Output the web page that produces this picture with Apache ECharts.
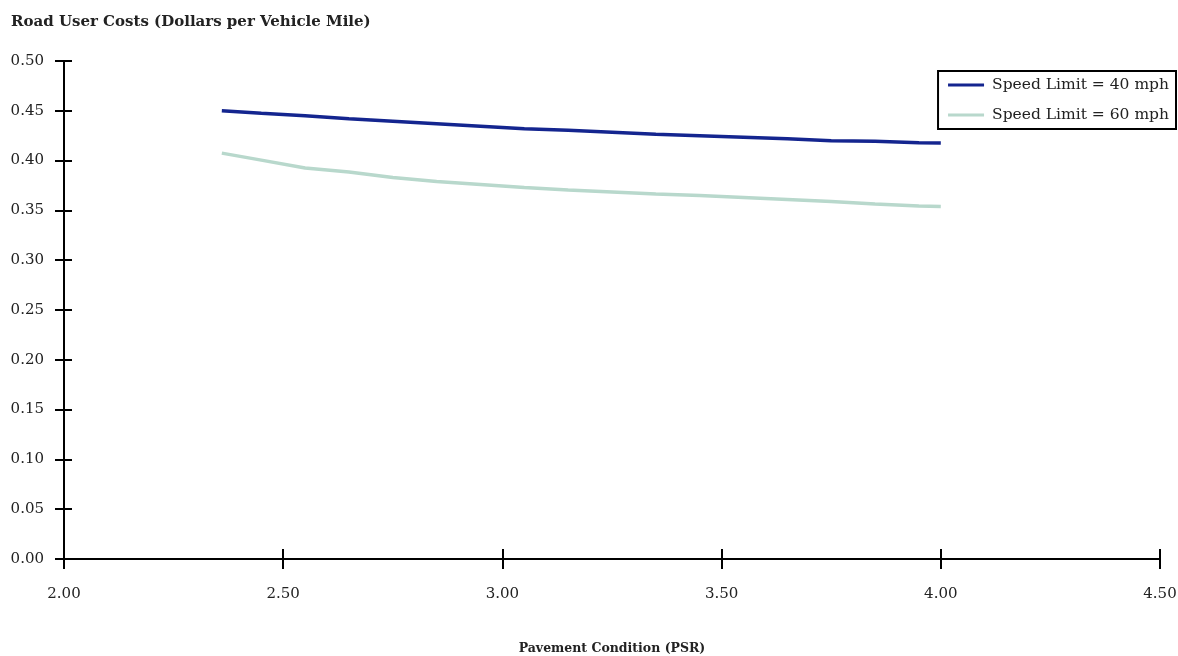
<!DOCTYPE html>
<html>
<head>
<meta charset="utf-8">
<script src="https://cdn.jsdelivr.net/npm/echarts@6/dist/echarts.min.js"></script>
<style>
  html, body { margin: 0; padding: 0; background: #fff; }
  #chart { width: 1178px; height: 656px; }
</style>
</head>
<body>
<div id="chart"></div>
<script>
// pavement condition (PSR) sample points
const psr = [2.36, 2.45, 2.55, 2.65, 2.75, 2.85, 2.95, 3.05, 3.15, 3.25, 3.35, 3.45, 3.55, 3.65, 3.75, 3.85, 3.95, 4.00];
// road user cost, $ per vehicle mile
const cost40 = [0.450, 0.4475, 0.4450, 0.4420, 0.4395, 0.4370, 0.4345, 0.4320, 0.4305, 0.4285, 0.4265, 0.4250, 0.4235, 0.4220, 0.4200, 0.4195, 0.4180, 0.4177];
const cost60 = [0.4075, 0.4005, 0.3925, 0.3885, 0.3830, 0.3790, 0.3760, 0.3730, 0.3705, 0.3685, 0.3665, 0.3650, 0.3630, 0.3610, 0.3590, 0.3565, 0.3545, 0.3540];
const seriesNames = ['Speed Limit = 40 mph', 'Speed Limit = 60 mph'];

const font = 'DejaVu Serif';
const chart = echarts.init(document.getElementById('chart'));

const pairs = ys => psr.map((x, i) => [x, ys[i]]);

const baseX = {
  type: 'value', min: 2, max: 4.5, interval: 0.5,
  splitLine: { show: false },
  axisLine: { show: true, onZero: false, lineStyle: { color: '#000', width: 2 } },
  axisTick: { show: true, length: 10, lineStyle: { color: '#000', width: 2 } }
};
const baseY = {
  type: 'value', min: 0, max: 0.5, interval: 0.05,
  splitLine: { show: false },
  axisLine: { show: true, onZero: false, lineStyle: { color: '#000', width: 2 } },
  axisTick: { show: true, length: 9, lineStyle: { color: '#000', width: 2 } }
};

chart.setOption({
  animation: false,
  textStyle: { fontFamily: font },
  title: {
    text: 'Road User Costs (Dollars per Vehicle Mile)',
    left: 6, top: 10,
    textStyle: { fontFamily: font, fontSize: 15, fontWeight: 'bold', color: '#222' }
  },
  legend: {
    orient: 'vertical',
    right: 2, top: 71,
    data: seriesNames,
    icon: 'rect',
    itemWidth: 36, itemHeight: 3,
    itemGap: 14,
    padding: [6, 7, 6, 10],
    borderColor: '#000', borderWidth: 2,
    textStyle: { fontFamily: font, fontSize: 15.5, color: '#222', padding: [0, 0, 0, 3] }
  },
  grid: { left: 64, right: 18, top: 61, bottom: 97, containLabel: false, outerBoundsMode: 'none' },
  xAxis: [
    Object.assign({}, baseX, {
      position: 'bottom',
      name: 'Pavement Condition (PSR)',
      nameLocation: 'middle', nameGap: 83,
      nameTextStyle: { fontFamily: font, fontSize: 12.5, fontWeight: 'bold', color: '#222' },
      axisLabel: { fontFamily: font, fontSize: 15, color: '#222', margin: 28, formatter: v => v.toFixed(2) }
    }),
    Object.assign({}, baseX, {
      position: 'bottom',
      axisLine: { show: false },
      axisTick: { show: true, inside: true, length: 10, lineStyle: { color: '#000', width: 2 } },
      axisLabel: { show: false }
    })
  ],
  yAxis: [
    Object.assign({}, baseY, {
      position: 'left',
      axisLabel: { fontFamily: font, fontSize: 15, color: '#222', margin: 20, formatter: v => v.toFixed(2) }
    }),
    Object.assign({}, baseY, {
      position: 'left',
      axisLine: { show: false },
      axisTick: { show: true, inside: true, length: 8, lineStyle: { color: '#000', width: 2 } },
      axisLabel: { show: false }
    })
  ],
  series: [
    {
      name: seriesNames[0], type: 'line', data: pairs(cost40),
      showSymbol: false, color: '#14258f',
      lineStyle: { width: 3.5, color: '#14258f' }
    },
    {
      name: seriesNames[1], type: 'line', data: pairs(cost60),
      showSymbol: false, color: '#b8d8cc',
      lineStyle: { width: 3.5, color: '#b8d8cc' }
    }
  ]
});
</script>
</body>
</html>
